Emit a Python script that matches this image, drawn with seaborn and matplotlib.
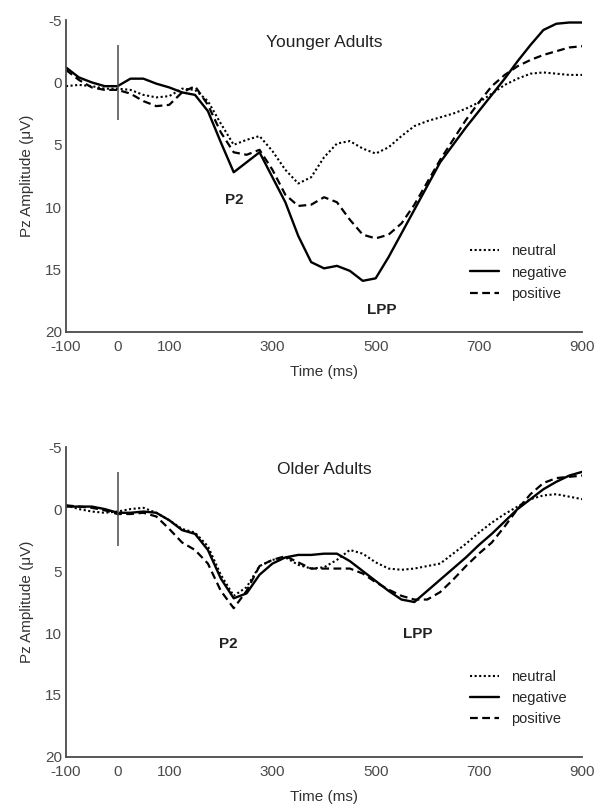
import numpy as np
import pandas as pd
import matplotlib
matplotlib.use('Agg')
import matplotlib.pyplot as plt
import seaborn as sns

sns.set_style('white')
plt.rcParams['font.family'] = ['Liberation Sans Narrow', 'Liberation Sans', 'DejaVu Sans']
plt.rcParams['axes.unicode_minus'] = False

# time axis (ms)
tempo = list(range(-100, 901, 25))

# Younger adults, Pz amplitude (uV)
jovem_neutral = [0.3, 0.2, 0.3, 0.5, 0.5, 0.6, 1.0, 1.2, 1.1, 0.5, 0.6, 1.5, 3.3, 5.0, 4.6, 4.3,
                 5.5, 7.0, 8.1, 7.6, 6.0, 4.9, 4.7, 5.3, 5.7, 5.2, 4.3, 3.5, 3.1, 2.8, 2.5, 2.1,
                 1.6, 0.9, 0.2, -0.3, -0.7, -0.8, -0.7, -0.6, -0.6]
jovem_negative = [-1.2, -0.4, 0.0, 0.3, 0.3, -0.3, -0.3, 0.1, 0.4, 0.8, 1.0, 2.3, 4.8, 7.2, 6.4, 5.6,
                  7.6, 9.6, 12.3, 14.4, 14.9, 14.7, 15.1, 15.9, 15.7, 14.0, 12.1, 10.2, 8.3, 6.4, 5.0, 3.6,
                  2.3, 1.0, -0.3, -1.7, -3.0, -4.2, -4.7, -4.8, -4.8]
jovem_positive = [-1.0, -0.2, 0.4, 0.6, 0.6, 0.9, 1.5, 1.9, 1.8, 0.8, 0.3, 1.8, 4.0, 5.6, 5.8, 5.4,
                  7.0, 9.0, 9.9, 9.8, 9.2, 9.6, 11.0, 12.2, 12.5, 12.2, 11.3, 9.8, 8.0, 6.2, 4.6, 3.0,
                  1.6, 0.3, -0.6, -1.3, -1.8, -2.2, -2.5, -2.8, -2.9]

# Older adults, Pz amplitude (uV)
idoso_neutral = [-0.3, 0.0, 0.2, 0.3, 0.2, 0.0, -0.1, 0.3, 0.9, 1.6, 1.9, 3.0, 5.3, 7.0, 6.3, 4.6,
                 4.1, 3.9, 4.5, 4.8, 4.7, 4.1, 3.3, 3.6, 4.3, 4.8, 4.9, 4.8, 4.6, 4.4, 3.6, 2.8,
                 1.9, 1.1, 0.4, -0.2, -0.8, -1.1, -1.2, -1.0, -0.8]
idoso_negative = [-0.2, -0.2, -0.2, 0.0, 0.3, 0.3, 0.2, 0.3, 0.9, 1.7, 2.0, 3.3, 5.6, 7.2, 6.8, 5.3,
                  4.4, 3.9, 3.7, 3.7, 3.6, 3.6, 4.2, 5.0, 5.8, 6.6, 7.3, 7.5, 6.6, 5.7, 4.8, 3.9,
                  2.9, 2.0, 1.0, 0.0, -0.8, -1.6, -2.2, -2.7, -3.0]
idoso_positive = [-0.3, -0.2, -0.1, 0.1, 0.4, 0.4, 0.3, 0.6, 1.6, 2.7, 3.3, 4.4, 6.6, 8.0, 6.6, 4.6,
                  4.1, 3.8, 4.3, 4.8, 4.8, 4.8, 4.8, 5.2, 5.9, 6.5, 7.0, 7.3, 7.3, 6.7, 5.7, 4.6,
                  3.6, 2.7, 1.4, 0.0, -1.2, -2.1, -2.5, -2.6, -2.7]

condicoes = ['neutral', 'negative', 'positive']
estilos = {'neutral': (0, (1, 1.2)), 'negative': '-', 'positive': (0, (3.5, 2))}
larguras = {'neutral': 1.5, 'negative': 1.7, 'positive': 1.6}

x_ticks = list(range(-100, 901, 100))
x_labels = ['-100', '0', '100', '', '300', '', '500', '', '700', '', '900']
y_ticks = [-5, 0, 5, 10, 15, 20]
estimulo = (-3, 3)

paineis = [
    ('Younger Adults', [jovem_neutral, jovem_negative, jovem_positive], (227, 9.4), (512, 18.2)),
    ('Older Adults', [idoso_neutral, idoso_negative, idoso_positive], (214, 10.9), (582, 10.1)),
]

fig = plt.figure(figsize=(5.96, 8.07), dpi=100)
posicoes = [[0.1107, 0.5886, 0.866, 0.3866], [0.1107, 0.062, 0.866, 0.384]]
cinza = '#4a4a4a'

for (titulo, series, p2, lpp), pos in zip(paineis, posicoes):
    ax = fig.add_axes(pos)
    for cond, vals in zip(condicoes, series):
        sns.lineplot(x=tempo, y=vals, ax=ax, color='black', linestyle=estilos[cond],
                     linewidth=larguras[cond], label=cond)
    ax.vlines(0, estimulo[0], estimulo[1], color=cinza, linewidth=1.1)
    ax.set_xlim(-100, 900)
    ax.set_ylim(20, -5)
    ax.set_xticks(x_ticks)
    ax.set_xticklabels(x_labels)
    ax.set_yticks(y_ticks)
    ax.tick_params(direction='in', length=4, width=1, colors=cinza, labelsize=11)
    ax.tick_params(axis='x', pad=6)
    ax.tick_params(axis='y', pad=3)
    for s in ['top', 'right']:
        ax.spines[s].set_visible(False)
    for s in ['left', 'bottom']:
        ax.spines[s].set_color(cinza)
        ax.spines[s].set_linewidth(1.3)
    ax.set_xlabel('Time (ms)', fontsize=11, color='#333333', labelpad=8)
    ax.set_ylabel('Pz Amplitude (\u03bcV)', fontsize=11, color='#333333', labelpad=8)
    ax.text(400, -3.2, titulo, ha='center', va='center', fontsize=12.5,
            family=['Liberation Sans', 'DejaVu Sans'], color='#222222')
    ax.text(p2[0], p2[1], 'P2', ha='center', va='center', fontsize=11, fontweight='bold', color='#222222')
    ax.text(lpp[0], lpp[1], 'LPP', ha='center', va='center', fontsize=11, fontweight='bold', color='#222222')
    ax.legend(loc='upper left', bbox_to_anchor=(0.772, 0.30), frameon=False, fontsize=10.5,
              handlelength=2.0, handletextpad=0.8, labelspacing=0.5, borderaxespad=0)

plt.savefig('out.png', dpi=100)
